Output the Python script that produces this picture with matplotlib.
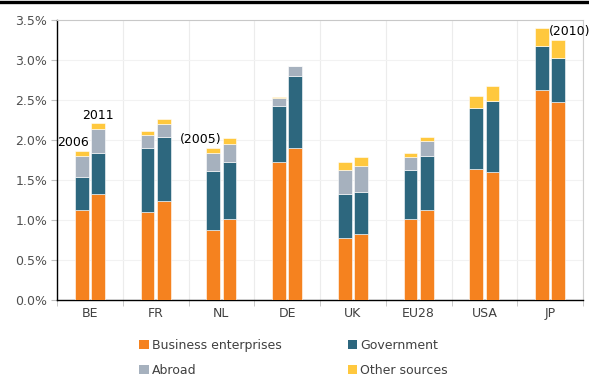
import numpy as np
import matplotlib
matplotlib.use('Agg')
import matplotlib.pyplot as plt
from matplotlib.patches import Patch
from matplotlib.lines import Line2D

countries = ['BE', 'FR', 'NL', 'DE', 'UK', 'EU28', 'USA', 'JP']

# R&D expenditure by source of funds, % of GDP (first year / latest year)
business_a = [1.125, 1.10, 0.88, 1.725, 0.78, 1.01, 1.64, 2.63]
business_b = [1.325, 1.24, 1.01, 1.90, 0.82, 1.12, 1.60, 2.47]
government_a = [0.415, 0.80, 0.73, 0.70, 0.55, 0.62, 0.76, 0.55]
government_b = [0.515, 0.80, 0.72, 0.90, 0.53, 0.68, 0.89, 0.56]
abroad_a = [0.26, 0.16, 0.23, 0.105, 0.29, 0.16, 0.0, 0.0]
abroad_b = [0.30, 0.16, 0.22, 0.12, 0.33, 0.19, 0.0, 0.0]
other_a = [0.06, 0.05, 0.06, 0.01, 0.10, 0.05, 0.15, 0.22]
other_b = [0.07, 0.06, 0.08, 0.01, 0.11, 0.05, 0.18, 0.22]

series_names = ['Business enterprises', 'Government', 'Abroad', 'Other sources']
colors = ['#F5821F', '#2D677E', '#A6B1BE', '#FFC83E']

first = np.array([business_a, government_a, abroad_a, other_a])
second = np.array([business_b, government_b, abroad_b, other_b])

fig = plt.figure(figsize=(5.89, 3.78), dpi=100)
ax = fig.add_axes([57/589, 78/378, 526/589, 280/378])

x = np.arange(len(countries))
w = 0.21
off = 0.125

for data, dx in ((first, -off), (second, off)):
    bottom = np.zeros(len(countries))
    for vals, c in zip(data, colors):
        ax.bar(x + dx, vals, w, bottom=bottom, color=c, edgecolor='white', linewidth=0.4, zorder=3)
        bottom += vals

tot_a = first.sum(axis=0)
tot_b = second.sum(axis=0)

lab = dict(fontsize=9, color='black')
ax.text(x[0] - off + w/2 + 0.01, tot_a[0] + 0.03, '2006', ha='right', va='bottom', **lab)
ax.text(x[0] + off, tot_b[0] + 0.02, '2011', ha='center', va='bottom', **lab)
ax.text(x[2] - off + w/2 + 0.02, tot_a[2] + 0.03, '(2005)', ha='right', va='bottom', **lab)
ax.text(x[7] - off + w/2 - 0.005, tot_a[7] - 0.04, '(2010)', ha='left', va='center', clip_on=False, **lab)

ax.set_xlim(-0.5, len(countries) - 0.5)
ax.set_ylim(0, 3.5)
ax.set_yticks(np.arange(0, 3.51, 0.5))
ax.set_yticklabels(['%.1f%%' % v for v in np.arange(0, 3.51, 0.5)])
ax.set_xticks(x)
ax.set_xticklabels(countries)
ax.set_xticks(np.arange(-0.5, len(countries)), minor=True)

ax.tick_params(axis='x', which='major', length=0, pad=5, labelsize=9, labelcolor='#404040')
ax.tick_params(axis='x', which='minor', length=4, color='#c0c0c0', direction='out')
ax.tick_params(axis='y', length=4, color='#c0c0c0', pad=3, labelsize=9, labelcolor='#505050')

ax.grid(axis='x', which='minor', color='#ececec', linewidth=0.8, zorder=0)
ax.grid(axis='y', which='major', color='#f2f2f2', linewidth=0.8, zorder=0)

ax.spines['left'].set_color('black')
ax.spines['bottom'].set_color('black')
ax.spines['left'].set_linewidth(1.0)
ax.spines['bottom'].set_linewidth(1.0)
ax.spines['top'].set_color('#c8c8c8')
ax.spines['right'].set_color('#d0d0d0')
ax.spines['top'].set_linewidth(0.8)
ax.spines['right'].set_linewidth(0.8)

# legend is filled column by column, so order entries to read across rows
order = [0, 2, 1, 3]
handles = [Patch(facecolor=colors[i], edgecolor='none') for i in order]
fig.legend(handles, [series_names[i] for i in order], loc='upper left',
           bbox_to_anchor=(133/589, 1 - 333/378),
           ncol=2, frameon=False, fontsize=9, handlelength=0.75, handleheight=0.75,
           handletextpad=0.25, columnspacing=5.3, labelspacing=0.95, borderpad=0,
           labelcolor='#404040')

# heavy rule along the top edge
fig.add_artist(Line2D([0, 1], [1 - 1.5/378, 1 - 1.5/378], color='black', linewidth=2.4,
                      transform=fig.transFigure))

fig.savefig('out.png', dpi=100)
